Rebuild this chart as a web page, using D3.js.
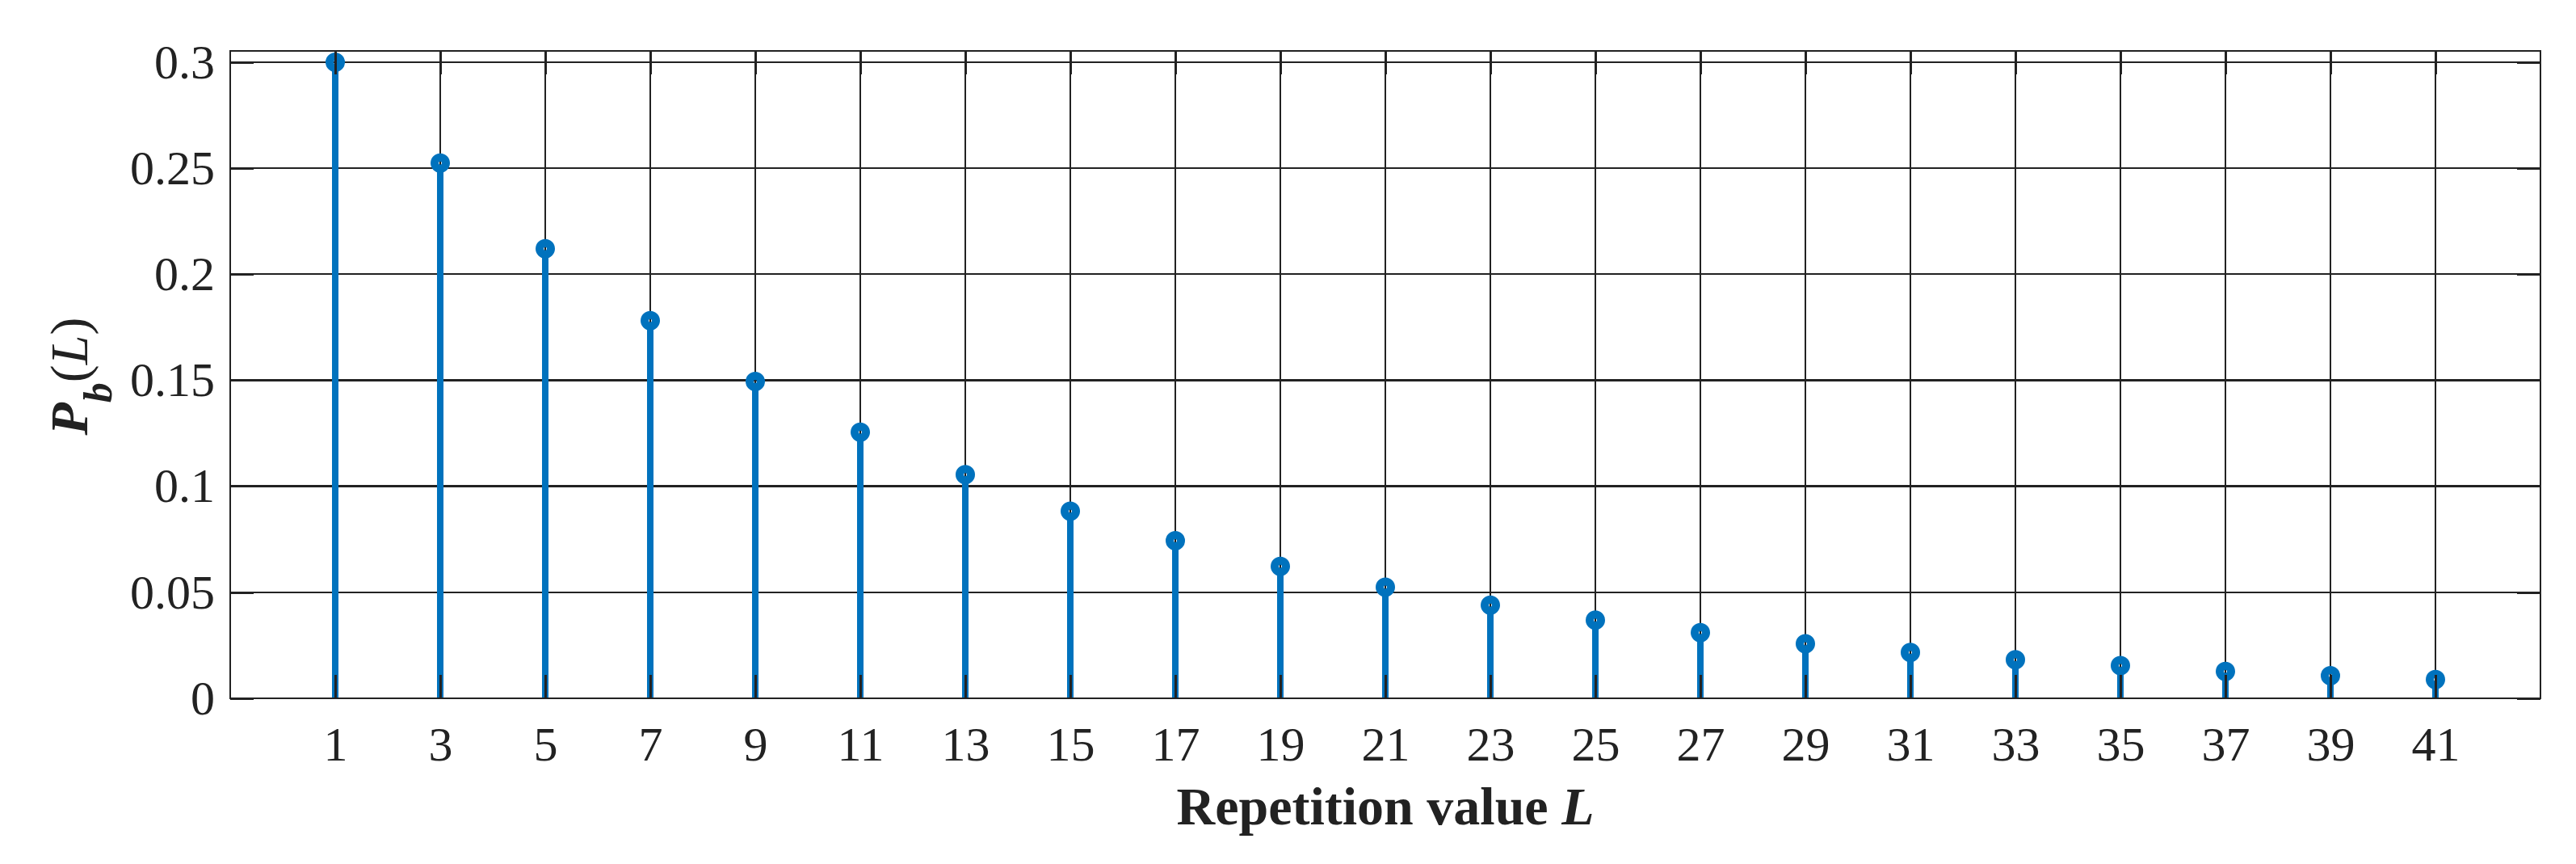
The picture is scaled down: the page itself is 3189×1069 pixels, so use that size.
<!DOCTYPE html>
<html>
<head>
<meta charset="utf-8">
<script src="https://cdn.jsdelivr.net/npm/d3@7"></script>
<style>
  html, body { margin: 0; padding: 0; background: #fff; }
  svg { display: block; }
  text { font-family: "Liberation Serif", "Times New Roman", serif; fill: #222; }
</style>
</head>
<body>
<svg id="chart" width="3189" height="1069"></svg>
<script>
// ---- data ----
const repetitionL = [1, 3, 5, 7, 9, 11, 13, 15, 17, 19, 21, 23, 25, 27, 29, 31, 33, 35, 37, 39, 41];
const pbValues = [0.3000, 0.2524, 0.2120, 0.1781, 0.1494, 0.1255, 0.1055, 0.0882, 0.0743, 0.0622,
                  0.0524, 0.0439, 0.0369, 0.0310, 0.0257, 0.0216, 0.0182, 0.0154, 0.0127, 0.0107, 0.0089];
const xTickValues = [1, 3, 5, 7, 9, 11, 13, 15, 17, 19, 21, 23, 25, 27, 29, 31, 33, 35, 37, 39, 41];
const yTickValues = [0, 0.05, 0.1, 0.15, 0.2, 0.25, 0.3];
const yTickLabels = ["0", "0.05", "0.1", "0.15", "0.2", "0.25", "0.3"];
const xDomain = [-1, 43];
const yDomain = [0, 0.3053];
const xTitle = "Repetition value ";
const xTitleItalic = "L";

// ---- layout ----
const W = 3189, H = 1069;
const m = { left: 285, right: 44, top: 63, bottom: 205 };
const svg = d3.select("#chart");
const x = d3.scaleLinear().domain(xDomain).range([m.left, W - m.right]);
const y = d3.scaleLinear().domain(yDomain).range([H - m.bottom, m.top]);
const ink = "#222";
const blue = "#0072BD";
const tickLen = 29;
const fontPx = 60;

// grid
const grid = svg.append("g").attr("shape-rendering", "crispEdges");
grid.selectAll("line.gx").data(xTickValues).join("line")
  .attr("x1", d => x(d)).attr("x2", d => x(d))
  .attr("y1", y.range()[1]).attr("y2", y.range()[0])
  .attr("stroke", ink).attr("stroke-width", 2.6);
grid.selectAll("line.gy").data(yTickValues).join("line")
  .attr("x1", x.range()[0]).attr("x2", x.range()[1])
  .attr("y1", d => y(d)).attr("y2", d => y(d))
  .attr("stroke", ink).attr("stroke-width", 2.4);

// stems
const pts = repetitionL.map((l, i) => ({ l, v: pbValues[i] }));
const markerR = 7;
svg.append("g").selectAll("line").data(pts).join("line")
  .attr("x1", d => x(d.l)).attr("x2", d => x(d.l))
  .attr("y1", y(0)).attr("y2", d => y(d.v) + markerR)
  .attr("stroke", blue).attr("stroke-width", 8);
svg.append("g").selectAll("circle").data(pts).join("circle")
  .attr("cx", d => x(d.l)).attr("cy", d => y(d.v)).attr("r", markerR)
  .attr("fill", "none").attr("stroke", blue).attr("stroke-width", 10);

// axes (inward ticks)
function styleAxis(g) {
  g.select(".domain").remove();
  g.selectAll(".tick line").attr("stroke", ink).attr("stroke-width", 2.5)
    .attr("shape-rendering", "crispEdges");
  g.selectAll(".tick text").attr("fill", ink).style("font-size", fontPx + "px")
    .style("font-family", '"Liberation Serif", "Times New Roman", serif');
}
svg.append("g").attr("transform", `translate(0,${y(0)})`)
  .call(d3.axisBottom(x).tickValues(xTickValues).tickFormat(d3.format("d"))
    .tickSize(-tickLen).tickSizeOuter(0).tickPadding(34))
  .call(styleAxis);
svg.append("g").attr("transform", `translate(0,${y.range()[1]})`)
  .call(d3.axisTop(x).tickValues(xTickValues).tickFormat("")
    .tickSize(-tickLen).tickSizeOuter(0))
  .call(styleAxis);
svg.append("g").attr("transform", `translate(${x.range()[0]},0)`)
  .call(d3.axisLeft(y).tickValues(yTickValues).tickFormat((d, i) => yTickLabels[i])
    .tickSize(-tickLen).tickSizeOuter(0).tickPadding(19))
  .call(styleAxis);
svg.append("g").attr("transform", `translate(${x.range()[1]},0)`)
  .call(d3.axisRight(y).tickValues(yTickValues).tickFormat("")
    .tickSize(-tickLen).tickSizeOuter(0))
  .call(styleAxis);

// box
svg.append("rect")
  .attr("x", x.range()[0]).attr("y", y.range()[1])
  .attr("width", x.range()[1] - x.range()[0]).attr("height", y.range()[0] - y.range()[1])
  .attr("fill", "none").attr("stroke", ink).attr("stroke-width", 2.8)
  .attr("shape-rendering", "crispEdges");

// x title
const xt = svg.append("text")
  .attr("x", (x.range()[0] + x.range()[1]) / 2).attr("y", 1020)
  .attr("text-anchor", "middle").style("font-size", "66px").style("font-weight", "bold");
xt.append("tspan").text(xTitle);
xt.append("tspan").style("font-style", "italic").text(xTitleItalic);

// y title: P_b(L)
const yt = svg.append("text")
  .attr("transform", `translate(108,${(y.range()[0] + y.range()[1]) / 2 + 2}) rotate(-90)`)
  .attr("text-anchor", "middle").style("font-size", "66px");
yt.append("tspan").style("font-weight", "bold").style("font-style", "italic").text("P");
yt.append("tspan").style("font-weight", "bold").style("font-style", "italic")
  .style("font-size", "50px").attr("dy", 30).text("b");
yt.append("tspan").attr("dy", -30).text("(");
yt.append("tspan").style("font-style", "italic").text("L");
yt.append("tspan").text(")");
</script>
</body>
</html>
